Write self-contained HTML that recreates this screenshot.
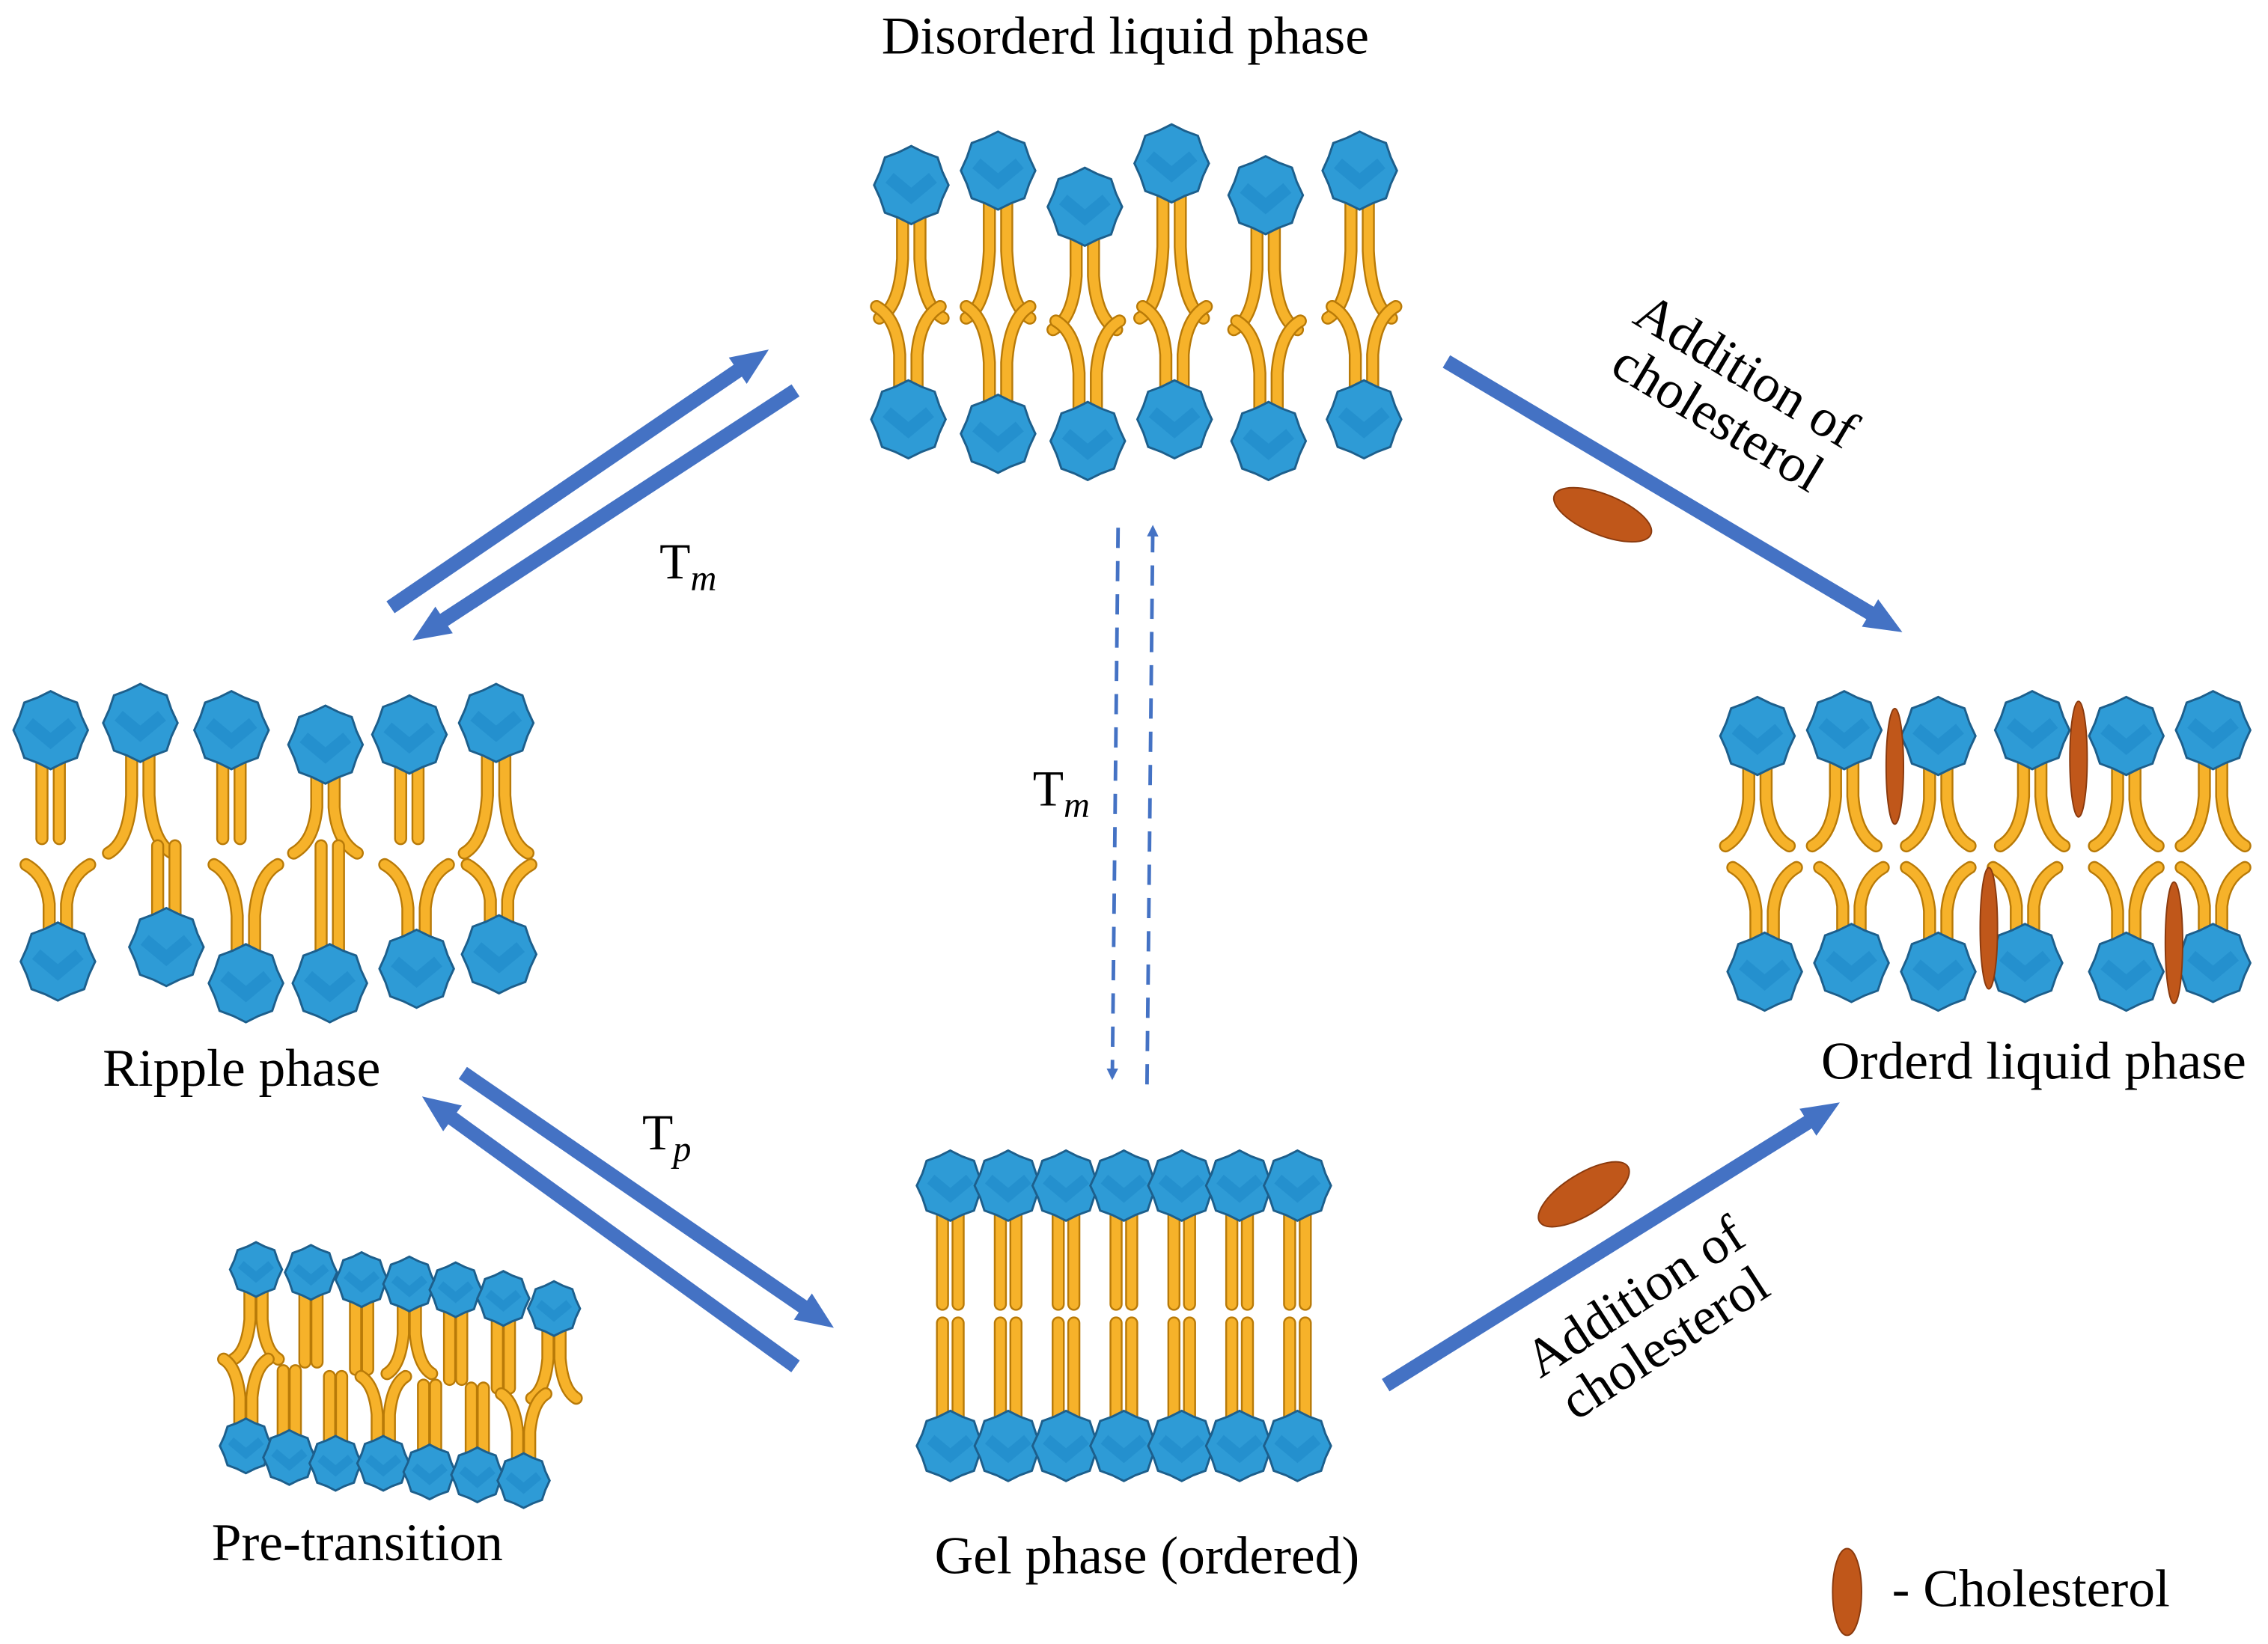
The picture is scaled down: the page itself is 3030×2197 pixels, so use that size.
<!DOCTYPE html>
<html><head><meta charset="utf-8"><style>
html,body{margin:0;padding:0;background:#fff}
svg{display:block}
text{font-family:"Liberation Serif",serif;fill:#000}
</style></head><body>
<svg id="s" xmlns="http://www.w3.org/2000/svg" width="3030" height="2197" viewBox="0 0 1568 1137" preserveAspectRatio="none">
<defs>
<marker id="ah" markerWidth="26" markerHeight="22" refX="6" refY="11" orient="auto" markerUnits="userSpaceOnUse"><path d="M0,0 L26,11 L0,22 Z" fill="#4472C4"/></marker>
<marker id="ahs" markerWidth="8" markerHeight="8" refX="6" refY="4" orient="auto" markerUnits="userSpaceOnUse"><path d="M0,0 L8,4 L0,8 Z" fill="#4472C4"/></marker>
</defs>
<g id="lip"></g>
<g stroke="#4472C4" stroke-width="10" fill="none">
<line x1="270" y1="420" x2="515" y2="253" marker-end="url(#ah)"/>
<line x1="550" y1="270" x2="302" y2="432" marker-end="url(#ah)"/>
<line x1="320" y1="742" x2="560" y2="907" marker-end="url(#ah)"/>
<line x1="550" y1="945" x2="308" y2="770" marker-end="url(#ah)"/>
<line x1="1000" y1="250" x2="1298" y2="427" marker-end="url(#ah)"/>
<line x1="958" y1="958" x2="1255" y2="773" marker-end="url(#ah)"/>
</g>
<g stroke="#4472C4" stroke-width="2.5" fill="none" stroke-dasharray="14,9">
<line x1="773" y1="365" x2="769" y2="745" marker-end="url(#ahs)"/>
<line x1="793" y1="750" x2="797" y2="365" marker-end="url(#ahs)"/>
</g>
<g fill="#C0571A" stroke="#8a3a0e" stroke-width="1">
<ellipse cx="1108" cy="356" rx="36" ry="14" transform="rotate(22 1108 356)"/>
<ellipse cx="1095" cy="826" rx="36" ry="14" transform="rotate(-32 1095 826)"/>
<ellipse cx="1277" cy="1101" rx="10" ry="30"/>
<ellipse cx="1310" cy="530" rx="6" ry="40"/>
<ellipse cx="1437" cy="525" rx="6" ry="40"/>
<ellipse cx="1375" cy="642" rx="6" ry="42"/>
<ellipse cx="1503" cy="652" rx="6" ry="42"/>
</g>
<text x="778" y="37" font-size="37" text-anchor="middle">Disorderd liquid phase</text>
<text x="167" y="751" font-size="37" text-anchor="middle">Ripple phase</text>
<text x="1406" y="746" font-size="37" text-anchor="middle">Orderd liquid phase</text>
<text x="793" y="1088" font-size="37" text-anchor="middle">Gel phase (ordered)</text>
<text x="247" y="1079" font-size="37" text-anchor="middle">Pre-transition</text>
<text x="1308" y="1111" font-size="37">- Cholesterol</text>
<text x="456" y="400" font-size="35">T<tspan font-style="italic" font-size="25" dy="8">m</tspan></text>
<text x="714" y="557" font-size="35">T<tspan font-style="italic" font-size="25" dy="8">p</tspan></text>
<text x="444" y="795" font-size="35">T<tspan font-style="italic" font-size="25" dy="8">p</tspan></text>
<g transform="translate(1198,272) rotate(31)"><text x="0" y="-6" font-size="37" text-anchor="middle">Addition of</text><text x="0" y="32" font-size="37" text-anchor="middle">cholesterol</text></g>
<g transform="translate(1140,912) rotate(-33)"><text x="0" y="-6" font-size="37" text-anchor="middle">Addition of</text><text x="0" y="32" font-size="37" text-anchor="middle">cholesterol</text></g>
</svg>
<script>
document.querySelectorAll('text')[7].innerHTML='T<tspan font-style="italic" font-size="25" dy="8">m</tspan>';
var g=document.getElementById('lip'),out='';
function head(x,y,r){var p='';for(var i=0;i<=16;i++){var a=i/16*Math.PI*2,rr=r*(i%2?0.93:1.03);p+=(i?'L':'M')+(x+rr*Math.cos(a)).toFixed(1)+','+(y+rr*1.05*Math.sin(a)).toFixed(1);}
out+='<path d="'+p+'Z" fill="#2E9BD6" stroke="#1d5f8c" stroke-width="1.5"/><path d="M'+(x-r*0.6)+','+(y-r*0.2)+' L'+x+','+(y+r*0.3)+' L'+(x+r*0.6)+','+(y-r*0.2)+'" fill="none" stroke="#1a86c6" stroke-width="'+(r*0.35)+'" opacity="0.5"/>';}
function tail(d){out+='<path d="'+d+'" fill="none" stroke="#b87a08" stroke-width="9" stroke-linecap="round"/><path d="'+d+'" fill="none" stroke="#F6B22A" stroke-width="6.5" stroke-linecap="round"/>';}
function lip(x,y,dir,t,s,ye){s=s||1;var r=25*s,y0=y+dir*r*0.7,y1=ye,L=Math.abs(y1-y0),w=6*s;
 if(t=='s'){tail('M'+(x-w)+','+y0+' L'+(x-w)+','+y1);tail('M'+(x+w)+','+y0+' L'+(x+w)+','+y1);}
 else{var sp=22*s;tail('M'+(x-w)+','+y0+' L'+(x-w)+','+(y0+dir*L*0.45)+' Q'+(x-w-2)+','+(y1-dir*8*s)+' '+(x-sp)+','+y1);
 tail('M'+(x+w)+','+y0+' L'+(x+w)+','+(y0+dir*L*0.45)+' Q'+(x+w+2)+','+(y1-dir*8*s)+' '+(x+sp)+','+y1);}
 head(x,y,r);}
[[630,128],[690,118],[750,143],[810,113],[875,135],[940,118]].forEach(function(a){lip(a[0],a[1],1,'v',1,a[1]>130?228:220);});
[[628,290],[690,300],[752,305],[812,290],[877,305],[943,290]].forEach(function(a){lip(a[0],a[1],-1,'v',1,a[1]>300?222:212);});
[[35,505,'s'],[97,500,'v'],[160,505,'s'],[225,515,'v'],[283,508,'s'],[343,500,'v']].forEach(function(a){lip(a[0],a[1],1,a[2],1,a[2]=='s'?580:590);});
[[40,665,'v'],[115,655,'s'],[170,680,'v'],[228,680,'s'],[288,670,'v'],[345,660,'v']].forEach(function(a){lip(a[0],a[1],-1,a[2],1,a[2]=='s'?585:598);});
[1215,1275,1340,1405,1470,1530].forEach(function(x,i){lip(x,505+(i%2?0:4),1,'v',1,585);});
[1220,1280,1340,1400,1470,1530].forEach(function(x,i){lip(x,672-(i%2?6:0),-1,'v',1,600);});
for(var i=0;i<7;i++){lip(657+i*40,820,1,'s',0.9,902);}
for(var i=0;i<7;i++){lip(657+i*40,1000,-1,'s',0.9,915);}
[[177,878,'v'],[215,880,'s'],[250,885,'s'],[283,888,'v'],[315,892,'s'],[348,898,'s'],[383,905,'v']].forEach(function(a){lip(a[0],a[1],1,a[2],0.7,a[1]+62);});
[[170,1000,'v'],[200,1008,'s'],[232,1012,'s'],[265,1012,'v'],[297,1018,'s'],[330,1020,'s'],[362,1024,'v']].forEach(function(a){lip(a[0],a[1],-1,a[2],0.7,a[1]-60);});
g.innerHTML=out;
</script>
</body></html>
